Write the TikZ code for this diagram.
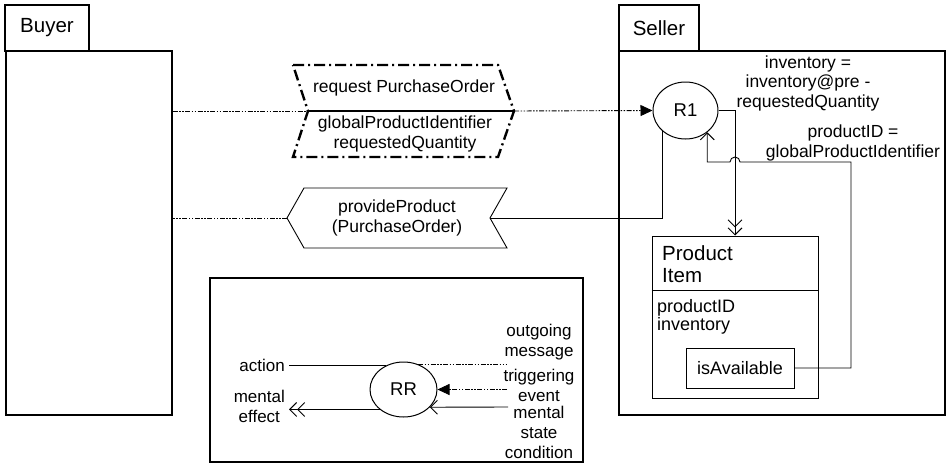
\documentclass[tikz,border=0pt]{standalone}
\usepackage{fontspec}
\setmainfont{Liberation Sans}
\usetikzlibrary{arrows.meta,shapes.geometric}

\begin{document}
\begin{tikzpicture}[x=1pt,y=-1pt,
  every node/.style={font=\fontsize{17.5}{19.5}\selectfont, inner sep=0pt},
  frame/.style={draw, line width=1.1pt},
  conn/.style={line width=0.9pt},
  ddot/.style={conn, dash pattern=on 5pt off 1.5pt on 1.5pt off 1.5pt on 1.5pt off 1.5pt},
  msgborder/.style={line width=2.4pt, dash pattern=on 11pt off 4pt on 2pt off 4pt},
  fillhead/.style={-{Triangle[length=12pt,width=11pt]}},
  openhead/.style={-{Straight Barb[length=7pt,width=14pt]}},
  dblhead/.style={-{Straight Barb[length=7pt,width=14pt]Straight Barb[length=7pt,width=14pt]}},
  rule/.style={ellipse, draw, line width=1pt},
  big/.style={font=\fontsize{20.5}{22}\selectfont},
  small/.style={font=\fontsize{17}{20}\selectfont},
]
\useasboundingbox (0,0) rectangle (947,466);

% swimlane frames
\node[frame, minimum width=84pt, minimum height=46pt, big] (buyertab) at (47,28) {Buyer};
\node[frame, minimum width=166pt, minimum height=364pt] (buyer) at (89,233) {};
\node[frame, minimum width=80pt, minimum height=46pt, big] (sellertab) at (659,28) {Seller};
\node[frame, minimum width=326pt, minimum height=364pt] (seller) at (782,233) {};

% reaction rule
\node[rule, minimum width=65pt, minimum height=57pt, font=\fontsize{18.5}{20}\selectfont] (R1) at (685.5,110.5) {R1};

% incoming message: request PurchaseOrder
\coordinate (reqL) at (308,111);
\coordinate (reqR) at (514,111);
\draw[msgborder] (293,65) -- (498,65) -- (reqR) -- (498,157) -- (293,157) -- (reqL) -- cycle;
\draw[line width=2.4pt] (reqL) -- (reqR);
\node (reqtxt) at (404,88) {request PurchaseOrder};
\node[align=center] (reqargs) at (405,134) {globalProductIdentifier\\requestedQuantity};
\draw[ddot] (buyer.east |- reqL) -- (reqL);
\draw[ddot, fillhead] (reqR) -- (R1.west);

% outgoing message: provideProduct
\coordinate (provL) at (287,218);
\coordinate (provR) at (490,218);
\draw[conn] (provL) -- (304,188) -- (507,188) -- (provR) -- (507,248) -- (304,248) -- cycle;
\node[align=center] (provtxt) at (397,218) {provideProduct\\(PurchaseOrder)};
\draw[ddot] (provL) -- (buyer.east |- provL);
\draw[conn] (provR) -| (R1.south west);

% ProductItem class
\node[draw, line width=1pt, minimum width=166pt, minimum height=162pt] (item) at (735,317) {};
\draw[line width=1pt] (item.west |- 0,290) -- (item.east |- 0,290);
\node[big, align=left, anchor=north west] (itemname) at (662,245) {Product\\Item};
\node[font=\fontsize{18}{18}\selectfont, align=left, anchor=north west] (attrs) at (657,299) {productID\\inventory};
\node[draw, line width=1pt, minimum width=108pt, minimum height=40pt, font=\fontsize{18}{18}\selectfont] (avail) at (740,368) {isAvailable};

% effect: update of the product item
\draw[conn, dblhead] (R1.east) -| (item.north);
% condition: isAvailable
\draw[conn, openhead] (avail.east) -| (851,162) -- (740,162)
  arc[start angle=0, end angle=180, radius=5pt] -- (R1.-45 |- 0,162) -- (R1.-45);

\node[align=center] (invlbl) at (808,83) {inventory =\\inventory@pre -\\requestedQuantity};
\node[align=center] (pidlbl) at (853,143) {productID =\\globalProductIdentifier};

% legend
\node[draw, line width=2.8pt, minimum width=373pt, minimum height=184pt] (legend) at (396.5,370) {};
\node[rule, minimum width=67pt, minimum height=55pt, font=\fontsize{18.5}{20}\selectfont] (RR) at (403.5,389.5) {RR};

\node[small, anchor=east, inner xsep=4pt] (actlbl) at (289,365) {action};
\draw[conn] (RR.127) -- (RR.127 -| actlbl.east);
\node[small, align=center, anchor=east, inner xsep=4pt] (mefflbl) at (289,406) {mental\\effect};
\draw[conn, dblhead] (RR.220) -- (RR.220 -| mefflbl.east);

\node[small, align=center] (outlbl) at (539,342) {outgoing\\message};
\node[small, align=center] (triglbl) at (539,385) {triggering\\event};
\node[small, align=center] (condlbl) at (539,432) {mental\\state\\condition};
\coordinate (outEnd) at (507,363);
\coordinate (trigEnd) at (507,389.5);
\coordinate (condEnd) at (508,407);
\draw[ddot] (RR.60) -- (RR.60 -| outEnd);
\draw[ddot, fillhead] (trigEnd) -- (RR.east);
\draw[conn, openhead] (condEnd) -- (RR.-34);
\end{tikzpicture}
\end{document}
